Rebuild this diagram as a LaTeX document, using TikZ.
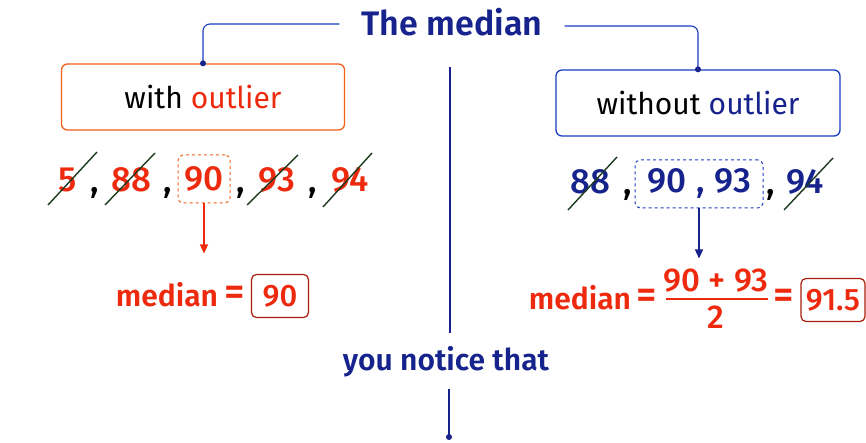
\documentclass[tikz,border=0pt]{standalone}
\usepackage{fontspec}
\setmainfont{Fira Sans}
\newfontfamily\semib{Fira Sans SemiBold}
\newfontfamily\medf{Fira Sans Medium}
\usetikzlibrary{calc,arrows.meta}
\definecolor{navy}{HTML}{16238C}
\definecolor{lineblue}{HTML}{1A3CC0}
\definecolor{redo}{HTML}{EE2A0E}
\definecolor{orangebox}{HTML}{F0601A}
\definecolor{strikec}{HTML}{1E3A1E}
\newcommand{\fsz}[1]{\fontsize{#1}{#1}\selectfont}
\tikzset{
  title/.style={text=navy,font=\fsz{34}\semib,inner sep=2pt},
  conn/.style={draw=lineblue,line width=1.1pt,rounded corners=7pt},
  jointdot/.style={circle,fill=navy,inner sep=0pt,minimum size=6pt},
  catbox/.style={draw,rounded corners=6pt,line width=1.3pt,minimum height=66pt,font=\fsz{30}},
  num/.style={font=\fsz{35}\medf,inner sep=1pt},
  comma/.style={font=\fsz{35}\medf,text=black,inner sep=0pt},
  strike/.style={draw=strikec,line width=1.4pt},
  selbox/.style={draw,dashed,rounded corners=5pt,line width=1pt,minimum height=48pt,inner sep=2pt},
  arr/.style={line width=1.2pt,-{Triangle[length=9pt,width=8pt]}},
  medtxt/.style={text=redo,font=\fsz{30}\semib,inner sep=1pt},
  eqs/.style={text=redo,font=\fsz{40}\medf,inner sep=1pt},
  resbox/.style={draw,rounded corners=5pt,line width=1.2pt,text=redo,font=\fsz{31}\medf,minimum height=43pt,inner sep=3pt},
}
\begin{document}
\begin{tikzpicture}[x=1pt,y=-1pt]
\useasboundingbox (0,0) rectangle (866,443);
% title and connectors
\node[title] (title) at (452,22) {The median};
\node[catbox,draw=orangebox,minimum width=283pt] (lbox) at (203,97) {with \textcolor{redo}{outlier}};
\node[catbox,draw=lineblue,minimum width=284pt] (rbox) at (698,103) {without \textcolor{navy}{outlier}};
\coordinate (lstart) at ([xshift=-20pt,yshift=-2pt]title.west);
\coordinate (rstart) at ([xshift=20pt,yshift=-4pt]title.east);
\draw[conn] (lstart) -| (lbox.north);
\draw[conn] (rstart) -| (rbox.north);
\node[jointdot] (ldot) at (lbox.north) {};
\node[jointdot] (rdot) at (rbox.north) {};
% middle line
\coordinate (vtop) at (450,67);
\node[title,font=\fsz{30}\semib] (notice) at (446,362) {you notice that};
\coordinate (vbot) at (449,437);
\draw[draw=navy,line width=1.1pt] (vtop) -- ([yshift=11pt]notice.north -| vtop);
\draw[draw=navy,line width=1.1pt] ([yshift=-9pt]notice.south -| vbot) -- (vbot);
\node[jointdot] (bdot) at (vbot) {};
% left sequence
\node[num,text=redo] (a5) at (68,180) {5};
\node[comma] (c1) at (95,193) {,};
\node[num,text=redo] (a88) at (131,180) {88};
\node[comma] (c2) at (168,193) {,};
\node[num,text=redo,selbox,draw=orangebox,minimum width=52pt] (a90) at (204,179) {90};
\node[comma] (c3) at (241,193) {,};
\node[num,text=redo] (a93) at (277,180) {93};
\node[comma] (c4) at (313,193) {,};
\node[num,text=redo] (a94) at (350,180) {94};
\draw[strike] ($(a5)+(-20,25)$) -- ($(a5)+(29,-28)$);
\draw[strike] ($(a88)+(-26,25)$) -- ($(a88)+(24,-27)$);
\draw[strike] ($(a93)+(-30,25)$) -- ($(a93)+(21,-25)$);
\draw[strike] ($(a94)+(-27,27)$) -- ($(a94)+(22,-27)$);
\draw[arr,draw=redo,fill=redo] (a90.south) -- ++(0,50) coordinate (larrend);
% left median
\node[medtxt] (lmed) at (167,295) {median};
\node[eqs] (leq) at (235,296) {=};
\node[resbox,draw=redo!70!black,minimum width=57pt] (lres) at (280,296) {90};
% right sequence
\node[num,text=navy] (b88) at (590,182) {88};
\node[comma] (d1) at (628,195) {,};
\node[num,text=navy,selbox,draw=lineblue,minimum width=128pt] (b9093) at (699,184) {90\hspace{10pt},\hspace{10pt}93};
\node[comma] (d2) at (771,195) {,};
\node[num,text=navy] (b94) at (805,182) {94};
\draw[strike] ($(b88)+(-22,28)$) -- ($(b88)+(27,-25)$);
\draw[strike] ($(b94)+(-21,28)$) -- ($(b94)+(28,-24)$);
\draw[arr,draw=navy,fill=navy] (b9093.south) -- ++(0,50) coordinate (rarrend);
% right median
\node[medtxt] (rmed) at (580,298) {median};
\node[eqs] (req1) at (647,299) {=};
\node[text=redo,font=\fsz{33}\medf,inner sep=1pt] (numr) at (716,281) {90 + 93};
\node[text=redo,font=\fsz{33}\medf,inner sep=1pt] (denr) at (716,317) {2};
\draw[draw=redo,line width=1.4pt] (666,299) coordinate (barl) -- (768,299) coordinate (barr);
\node[eqs] (req2) at (784,299) {=};
\node[resbox,draw=redo!70!black,minimum width=64pt] (rres) at (833,300) {91.5};
\end{tikzpicture}
\end{document}
